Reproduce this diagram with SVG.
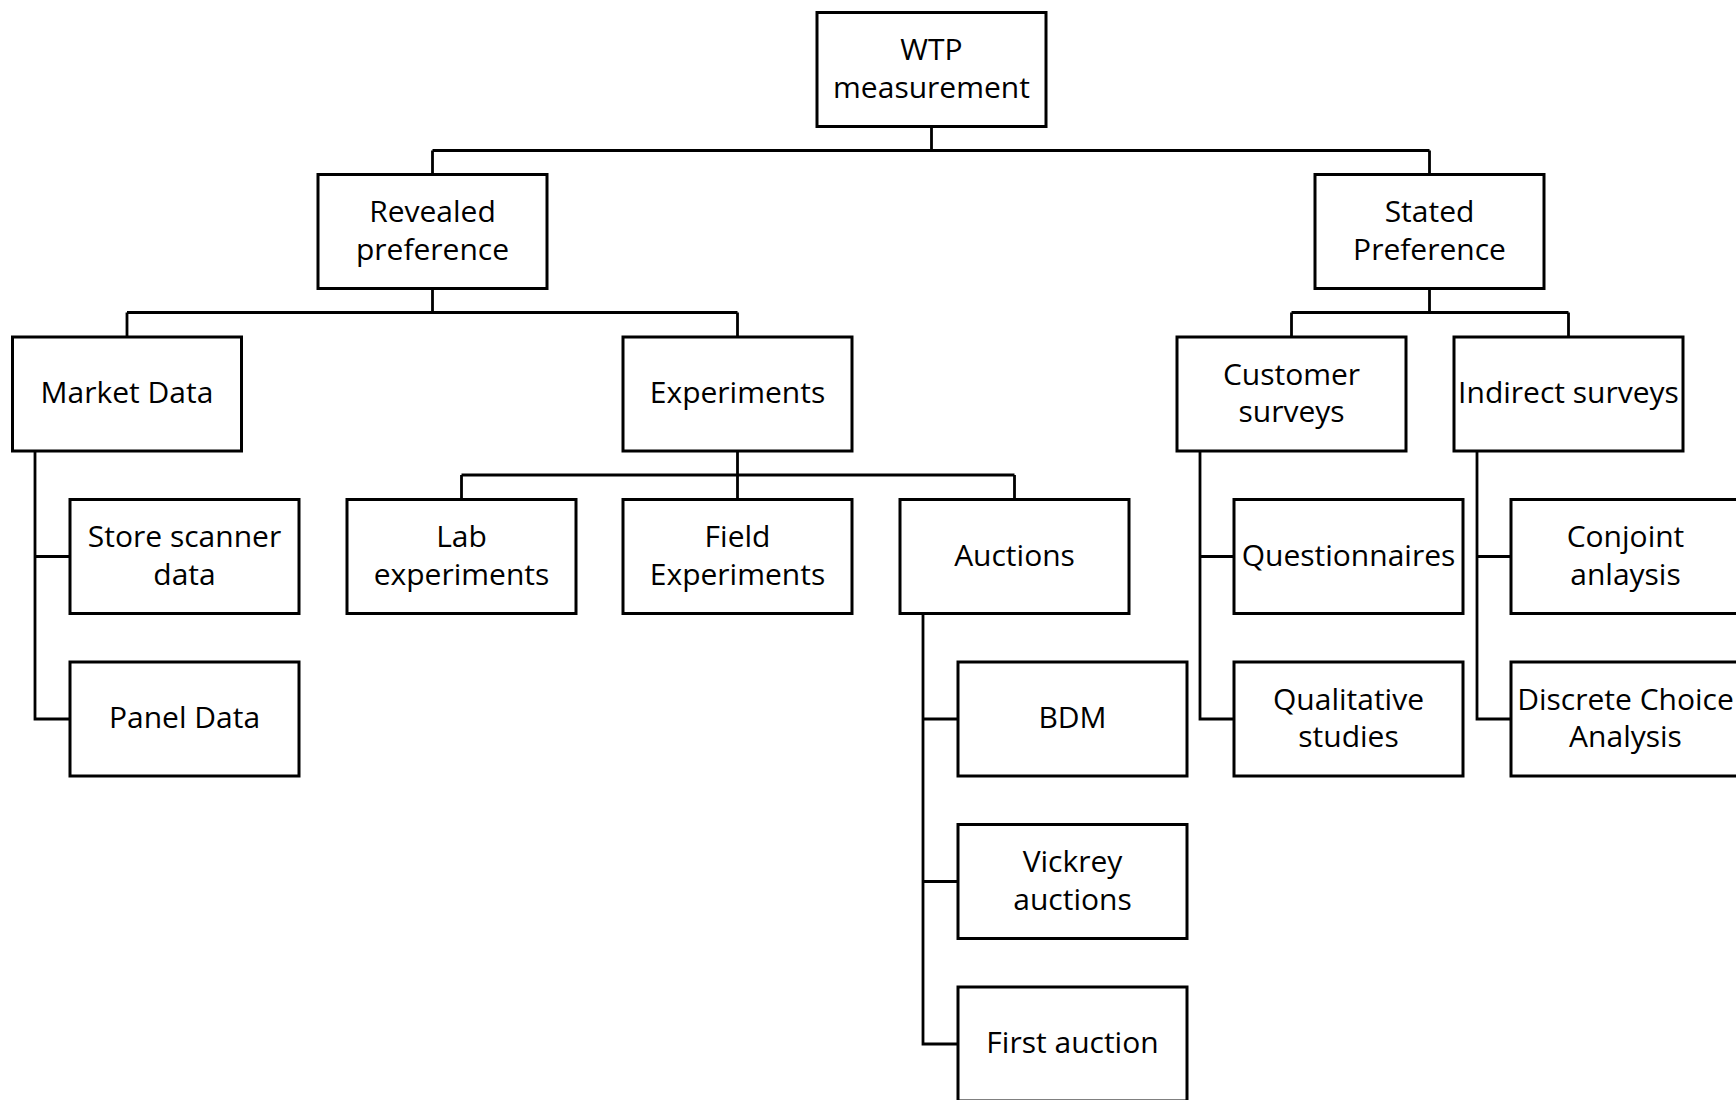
<svg xmlns="http://www.w3.org/2000/svg" width="1736" height="1100" viewBox="0 0 1736 1100">
<style>
.box{fill:#fff;stroke:#000;stroke-width:3}
.ln{fill:none;stroke:#000;stroke-width:2.8}
text{font-family:"Open Sans","Noto Sans","DejaVu Sans",sans-serif;font-size:30px;fill:#000;text-anchor:middle}
</style>
<g id="connectors">
<path class="ln" d="M931.5 126.5V150.5M432.5 150.5H1429.5M432.5 150.5V174.5M1429.5 150.5V174.5"/>
<path class="ln" d="M432.5 288.5V312.5M127 312.5H737.5M127 312.5V337M737.5 312.5V337"/>
<path class="ln" d="M1429.5 288.5V312.5M1291.5 312.5H1568.5M1291.5 312.5V337M1568.5 312.5V337"/>
<path class="ln" d="M737.5 451V475M461.5 475H1014.5M461.5 475V499.5M737.5 475V499.5M1014.5 475V499.5"/>
<path class="ln" d="M35 451V719H70M35 556.5H70"/>
<path class="ln" d="M923 613.5V1044H958M923 719H958M923 881.5H958"/>
<path class="ln" d="M1200 451V719H1234M1200 556.5H1234"/>
<path class="ln" d="M1477 451V719H1511M1477 556.5H1511"/>
</g>
<g id="wtp"><rect class="box" x="817" y="12.5" width="229" height="114"/><text x="931.5" y="60">WTP</text><text x="931.5" y="97.7">measurement</text></g>
<g id="revealed"><rect class="box" x="318" y="174.5" width="229" height="114"/><text x="432.5" y="222">Revealed</text><text x="432.5" y="259.8">preference</text></g>
<g id="stated"><rect class="box" x="1315" y="174.5" width="229" height="114"/><text x="1429.5" y="222">Stated</text><text x="1429.5" y="259.8">Preference</text></g>
<g id="market"><rect class="box" x="12.5" y="337" width="229" height="114"/><text x="127" y="403.3">Market Data</text></g>
<g id="experiments"><rect class="box" x="623" y="337" width="229" height="114"/><text x="737.5" y="403.3">Experiments</text></g>
<g id="customer"><rect class="box" x="1177" y="337" width="229" height="114"/><text x="1291.5" y="384.5">Customer</text><text x="1291.5" y="422.3">surveys</text></g>
<g id="indirect"><rect class="box" x="1454" y="337" width="229" height="114"/><text x="1568.5" y="403.3">Indirect surveys</text></g>
<g id="store"><rect class="box" x="70" y="499.5" width="229" height="114"/><text x="184.5" y="547">Store scanner</text><text x="184.5" y="584.8">data</text></g>
<g id="lab"><rect class="box" x="347" y="499.5" width="229" height="114"/><text x="461.5" y="547">Lab</text><text x="461.5" y="584.8">experiments</text></g>
<g id="field"><rect class="box" x="623" y="499.5" width="229" height="114"/><text x="737.5" y="547">Field</text><text x="737.5" y="584.8">Experiments</text></g>
<g id="auctions"><rect class="box" x="900" y="499.5" width="229" height="114"/><text x="1014.5" y="565.8">Auctions</text></g>
<g id="questionnaires"><rect class="box" x="1234" y="499.5" width="229" height="114"/><text x="1348.5" y="565.8">Questionnaires</text></g>
<g id="conjoint"><rect class="box" x="1511" y="499.5" width="229" height="114"/><text x="1625.5" y="547">Conjoint</text><text x="1625.5" y="584.8">anlaysis</text></g>
<g id="panel"><rect class="box" x="70" y="662" width="229" height="114"/><text x="184.5" y="728.3">Panel Data</text></g>
<g id="bdm"><rect class="box" x="958" y="662" width="229" height="114"/><text x="1072.5" y="728.3">BDM</text></g>
<g id="qualitative"><rect class="box" x="1234" y="662" width="229" height="114"/><text x="1348.5" y="709.5">Qualitative</text><text x="1348.5" y="747.3">studies</text></g>
<g id="discrete"><rect class="box" x="1511" y="662" width="229" height="114"/><text x="1625.5" y="709.5">Discrete Choice</text><text x="1625.5" y="747.3">Analysis</text></g>
<g id="vickrey"><rect class="box" x="958" y="824.5" width="229" height="114"/><text x="1072.5" y="872">Vickrey</text><text x="1072.5" y="909.8">auctions</text></g>
<g id="first"><rect class="box" x="958" y="987" width="229" height="114"/><text x="1072.5" y="1053.3">First auction</text></g>
</svg>
